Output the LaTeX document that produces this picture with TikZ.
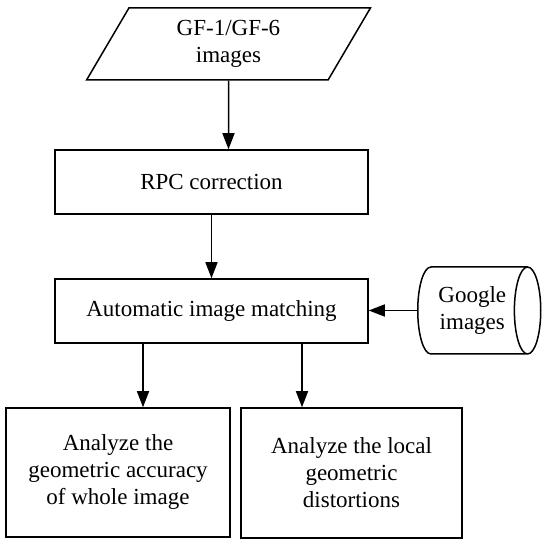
\documentclass[tikz,border=0pt]{standalone}
\usepackage{fontspec}
\setmainfont{Liberation Serif}
\usetikzlibrary{shapes.geometric, arrows.meta, positioning, calc}

\begin{document}
\begin{tikzpicture}[x=1pt, y=1pt, line width=1.5pt,
    >={Triangle[length=16pt,width=12pt]},
    every node/.style={font=\fontsize{23}{27}\selectfont, align=center, inner sep=0pt},
    process/.style={rectangle, draw},
    inputbox/.style={trapezium, trapezium left angle=65, trapezium right angle=115, trapezium stretches=true, draw},
    database/.style={cylinder, draw, aspect=0.55}]

    \useasboundingbox (0,0) rectangle (550,544);

    % Nodes
    \node (Input) [inputbox, minimum width=284pt, minimum height=72pt] at (228.5,500) {GF-1/GF-6\\images};
    \node (Rpc) [process, minimum width=313pt, minimum height=64pt] at (211.5,362) {RPC correction};
    \node (Match) [process, minimum width=313pt, minimum height=64pt] at (211.5,233) {Automatic image matching};
    \node (Google) [database, minimum width=87pt, minimum height=123pt, anchor=west] at (417,233.5) {Google\\images};
    \node (Accuracy) [process, minimum width=224pt, minimum height=129pt] at (118,71.5) {Analyze the\\geometric accuracy\\of whole image};
    \node (Local) [process, minimum width=221pt, minimum height=130pt] at (351.5,71) {Analyze the local\\geometric\\distortions};

    % Edges
    \draw[->] (Input) -- (Input |- Rpc.north);
    \draw[->] (Rpc) -- (Match);
    \draw[->] (Google.west) -- (Google.west -| Match.east);
    \draw[->] ([xshift=-68.5pt]Match.south) -- ([xshift=-68.5pt]Match.south |- Accuracy.north);
    \draw[->] ([xshift=90.5pt]Match.south) -- ([xshift=90.5pt]Match.south |- Local.north);
\end{tikzpicture}
\end{document}
